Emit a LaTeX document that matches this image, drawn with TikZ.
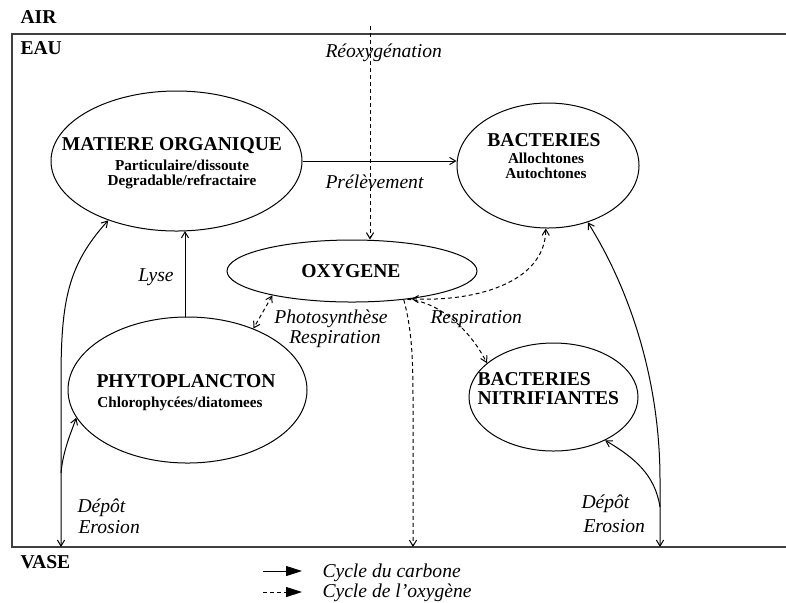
\documentclass[tikz,border=0pt]{standalone}
\usepackage{fontspec}
\setmainfont{Liberation Serif}
\usetikzlibrary{shapes.geometric, arrows.meta}

\begin{document}
\begin{tikzpicture}[x=0.5pt, y=-0.5pt, line width=0.5pt,
  >={Straight Barb[length=3pt,width=3.6pt]},
  ell/.style={draw, ellipse, inner sep=0pt},
  titre/.style={font=\bfseries\fontsize{9.8}{11}\selectfont, inner sep=0pt, anchor=base},
  sous/.style={font=\bfseries\fontsize{7.6}{9}\selectfont, inner sep=0pt, anchor=base},
  lbl/.style={font=\itshape\fontsize{9.8}{11}\selectfont, inner sep=0pt, anchor=base west},
  carbone/.style={->},
  oxyg/.style={->, dash pattern=on 2pt off 1.5pt},
  legende/.style={-{Triangle[length=8pt,width=5pt]}}]
\useasboundingbox (0,0) rectangle (786,602);

% milieux
\draw[line width=0.7pt, black!75] (786,34) -- (12,34) -- (12,547) -- (786,547);
\node[titre, anchor=base west] (air) at (20,23) {AIR};
\node[titre, anchor=base west] (eau) at (20,54) {EAU};
\node[titre, anchor=base west] (vase) at (20,568) {VASE};

% compartiments
\node[ell, minimum width=125.5pt, minimum height=70pt] (mo) at (176.5,161) {};
\node[titre] (moT) at (172,150) {MATIERE ORGANIQUE};
\node[sous] (moA) at (182,170) {Particulaire/dissoute};
\node[sous] (moB) at (182,185) {Degradable/refractaire};

\node[ell, minimum width=91pt, minimum height=62.5pt] (bact) at (548,165.5) {};
\node[titre] (bactT) at (544,146) {BACTERIES};
\node[sous] (bactA) at (546,163) {Allochtones};
\node[sous] (bactB) at (546,178) {Autochtones};

\node[ell, minimum width=125pt, minimum height=31pt] (oxy) at (352,271) {};
\node[titre] (oxyT) at (351,277) {OXYGENE};

\node[ell, minimum width=119.5pt, minimum height=73pt] (phyto) at (187.5,390) {};
\node[titre] (phytoT) at (186,387) {PHYTOPLANCTON};
\node[sous] (phytoA) at (180,407) {Chlorophycées/diatomees};

\node[ell, minimum width=84.5pt, minimum height=54pt] (nitri) at (553.5,397) {};
\node[titre, anchor=base west] (nitriA) at (477,385) {BACTERIES};
\node[titre, anchor=base west] (nitriB) at (477,404) {NITRIFIANTES};

% points libres
\coordinate (reo) at (370,26);
\coordinate (vL) at (61,547);
\coordinate (vLb) at (61,473);
\coordinate (vR) at (660,547);
\coordinate (vRb) at (660,507);
\coordinate (vO) at (413,547);

% cycle du carbone
\draw[carbone] (mo.east) -- (mo.east -| bact.west);
\node[lbl] (prel) at (325,188) {Prélèvement};
\draw[carbone] (phyto.north -| 185,0) -- (185,231);
\node[lbl, anchor=base] (lyse) at (156,281) {Lyse};
\draw[<->] (mo.221) .. controls (68,265) and (61,300) .. (61,380) -- (vL);
\draw[carbone] (vLb) .. controls (63,450) and (72,430) .. (phyto.194);
\node[lbl] (depL) at (77,512) {Dépôt};
\node[lbl] (eroL) at (78,533) {Erosion};
\draw[<->] (bact.305) .. controls (630,290) and (660,380) .. (660,480) -- (vR);
\draw[carbone] (vRb) .. controls (655,475) and (635,458) .. (nitri.320);
\node[lbl] (depR) at (581,508) {Dépôt};
\node[lbl] (eroR) at (583,532) {Erosion};

% cycle de l'oxygene
\draw[oxyg] (reo) -- (reo |- oxy.north);
\node[lbl] (reox) at (325,57) {Réoxygénation};
\draw[oxyg, <->] (oxy.197) -- (phyto.43);
\node[lbl, anchor=base] (photo) at (331,323) {Photosynthèse};
\node[lbl, anchor=base] (respA) at (335,343) {Respiration};
\draw[oxyg, <->] (oxy.335) .. controls (470,302) and (545,285) .. (bact.268);
\draw[oxyg] (oxy.333) .. controls (440,302) and (470,330) .. (nitri.153);
\node[lbl] (respB) at (430,323) {Respiration};
\draw[oxyg] (oxy.331) .. controls (412,330) and (413,360) .. (413,400) -- (vO);

% legende
\coordinate (lgA) at (263,571);
\coordinate (lgB) at (302,571);
\coordinate (lgC) at (263,592);
\coordinate (lgD) at (302,592);
\draw[legende] (lgA) -- (lgB);
\draw[legende, dash pattern=on 2pt off 1.5pt] (lgC) -- (lgD);
\node[lbl] (lgT1) at (322,577) {Cycle du carbone};
\node[lbl] (lgT2) at (322,597) {Cycle de l’oxygène};
\end{tikzpicture}
\end{document}
